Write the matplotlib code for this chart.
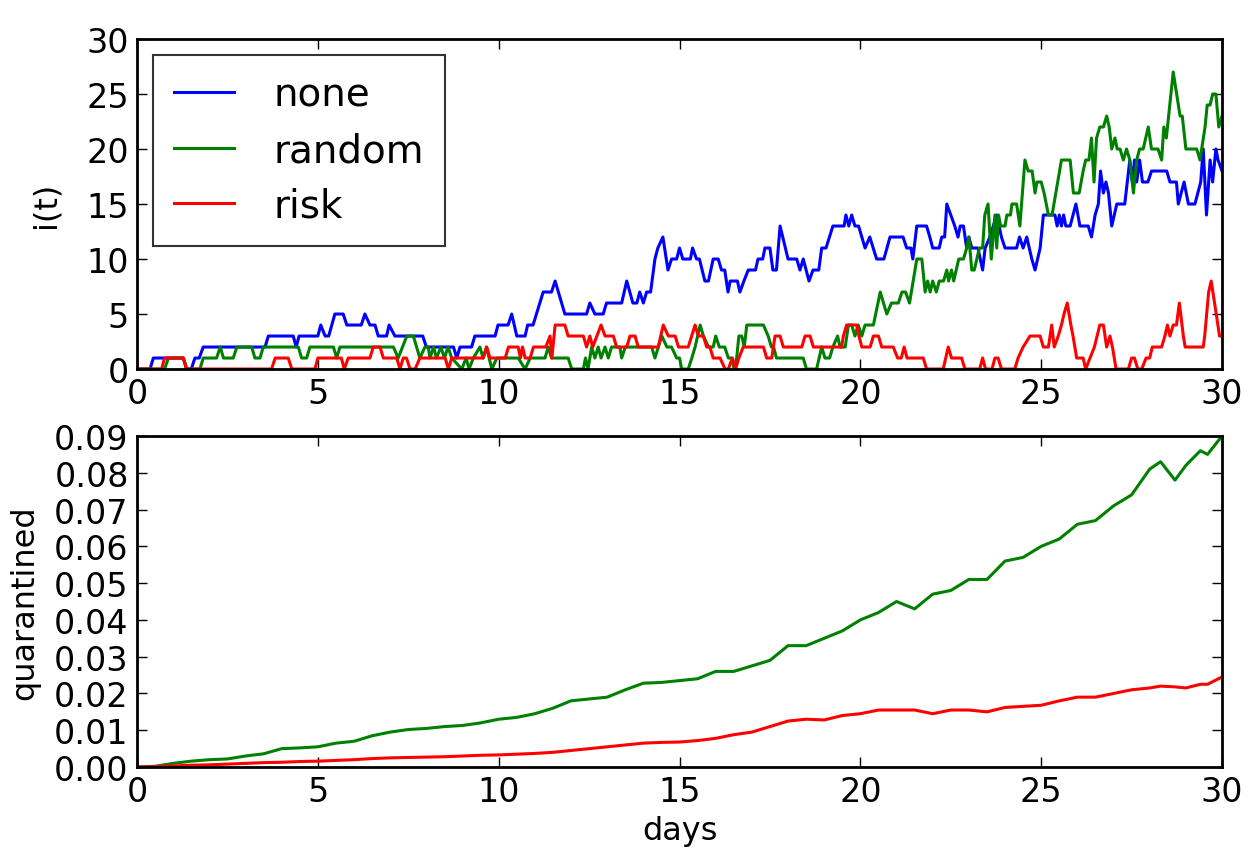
import numpy as np
import matplotlib
matplotlib.use('Agg')
import matplotlib.pyplot as plt

# i(t) series as (day, infected) breakpoints
none_pts = [(0, 0), (0.36, 0), (0.45, 1), (1.28, 1), (1.37, 0), (1.5, 0), (1.6, 1), (1.72, 1), (1.83, 2),
            (3.54, 2), (3.63, 3), (4.32, 3), (4.4, 2), (4.48, 3), (5.0, 3), (5.08, 4), (5.2, 3), (5.3, 3),
            (5.47, 5), (5.7, 5), (5.8, 4), (6.2, 4), (6.3, 5), (6.44, 4), (6.58, 4), (6.67, 3), (6.9, 3),
            (6.97, 4), (7.13, 3), (7.9, 3), (8.0, 2), (8.75, 2), (8.84, 1), (8.93, 2), (9.25, 2), (9.34, 3),
            (9.9, 3), (9.98, 4), (10.26, 4), (10.36, 5), (10.5, 3), (10.73, 3), (10.8, 4), (10.95, 4),
            (11.23, 7), (11.46, 7), (11.56, 8), (11.83, 5), (12.43, 5), (12.52, 6), (12.66, 5), (12.89, 5),
            (12.98, 6), (13.4, 6), (13.54, 8), (13.71, 6), (13.82, 6), (13.9, 7), (14.0, 6), (14.09, 7),
            (14.2, 7), (14.32, 10), (14.4, 11), (14.54, 12), (14.68, 9), (14.78, 10), (14.92, 10), (15.0, 11),
            (15.09, 10), (15.3, 10), (15.36, 11), (15.47, 10), (15.55, 10), (15.7, 8), (15.8, 8), (15.93, 10),
            (16.07, 10), (16.16, 9), (16.25, 9), (16.34, 7), (16.4, 8), (16.6, 8), (16.67, 7), (16.78, 8),
            (16.9, 9), (17.1, 9), (17.17, 10), (17.3, 10), (17.36, 11), (17.5, 11), (17.58, 9), (17.68, 9),
            (17.78, 13), (18.0, 10), (18.24, 10), (18.33, 9), (18.42, 10), (18.58, 8), (18.69, 9), (18.85, 9),
            (18.93, 11), (19.05, 11), (19.24, 13), (19.55, 13), (19.6, 14), (19.68, 13), (19.76, 14),
            (19.85, 13), (19.95, 13), (20.13, 11), (20.26, 12), (20.45, 10), (20.65, 10), (20.82, 12),
            (21.18, 12), (21.28, 11), (21.4, 11), (21.45, 10), (21.56, 13), (21.83, 13), (21.92, 12),
            (22.0, 11), (22.18, 11), (22.25, 12), (22.33, 12), (22.39, 15), (22.61, 13), (22.7, 12),
            (22.76, 13), (22.85, 13), (22.94, 11), (23.0, 12), (23.08, 11), (23.25, 11), (23.38, 9),
            (23.45, 11), (23.58, 12), (23.77, 14), (23.9, 12), (24.0, 11), (24.32, 11), (24.4, 12), (24.5, 11),
            (24.6, 12), (24.74, 10), (24.83, 9), (24.97, 11), (25.06, 14), (25.38, 14), (25.44, 13), (25.5, 14),
            (25.56, 13), (25.62, 14), (25.68, 13), (25.8, 13), (25.96, 15), (26.07, 13), (26.3, 13),
            (26.39, 12), (26.49, 14), (26.58, 15), (26.64, 18), (26.72, 16), (26.79, 17), (26.86, 16),
            (26.95, 13), (27.09, 15), (27.31, 15), (27.45, 19), (27.52, 17), (27.58, 19), (27.64, 17),
            (27.72, 19), (27.8, 17), (27.95, 17), (28.05, 18), (28.47, 18), (28.56, 17), (28.74, 17),
            (28.79, 15), (28.95, 17), (29.07, 15), (29.25, 15), (29.33, 16), (29.41, 17), (29.48, 20),
            (29.57, 14), (29.67, 19), (29.74, 17), (29.83, 20), (29.89, 19), (30.0, 18)]

random_pts = [(0, 0), (0.76, 0), (0.87, 1), (1.28, 1), (1.37, 0), (1.74, 0), (1.83, 1), (2.2, 1), (2.3, 2),
              (2.39, 1), (2.66, 1), (2.76, 2), (3.17, 2), (3.26, 1), (3.4, 1), (3.49, 2), (4.46, 2), (4.55, 1),
              (4.69, 1), (4.78, 2), (5.43, 2), (5.52, 1), (5.61, 2), (7.09, 2), (7.22, 1), (7.46, 3), (7.64, 3),
              (7.82, 1), (7.96, 2), (8.05, 2), (8.1, 1), (8.2, 2), (8.28, 1), (8.4, 2), (8.5, 1), (8.6, 2),
              (8.7, 1), (8.98, 0), (9.1, 1), (9.18, 0), (9.3, 1), (9.48, 2), (9.57, 1), (9.66, 2), (9.81, 0),
              (9.95, 1), (10.54, 1), (10.73, 0), (10.87, 1), (11.28, 1), (11.37, 2), (11.46, 1), (11.92, 1),
              (12.02, 0), (12.34, 0), (12.4, 1), (12.47, 0), (12.57, 2), (12.66, 1), (12.75, 2), (12.83, 1),
              (12.94, 2), (13.03, 1), (13.12, 2), (13.35, 2), (13.4, 1), (13.5, 2), (14.23, 2), (14.32, 1),
              (14.51, 3), (14.65, 2), (14.78, 2), (14.92, 1), (15.0, 1), (15.06, 0), (15.24, 0), (15.34, 1),
              (15.43, 2), (15.57, 4), (15.66, 3), (15.8, 2), (15.93, 2), (16.0, 3), (16.1, 2), (16.25, 2),
              (16.35, 1), (16.44, 1), (16.51, 0), (16.58, 1), (16.64, 3), (16.72, 3), (16.79, 2), (16.86, 4),
              (17.32, 4), (17.45, 3), (17.54, 2), (17.6, 2), (17.68, 1), (18.42, 1), (18.51, 0), (18.79, 0),
              (18.93, 2), (19.02, 1), (19.15, 1), (19.24, 2), (19.37, 3), (19.44, 2), (19.58, 2), (19.67, 4),
              (19.76, 4), (19.85, 3), (19.94, 4), (20.04, 3), (20.13, 4), (20.36, 4), (20.55, 7), (20.73, 5),
              (20.86, 6), (21.05, 6), (21.15, 7), (21.25, 7), (21.36, 6), (21.56, 10), (21.7, 10), (21.79, 7),
              (21.86, 8), (21.93, 7), (22.0, 8), (22.1, 7), (22.18, 8), (22.3, 8), (22.39, 9), (22.44, 8),
              (22.52, 9), (22.58, 8), (22.65, 9), (22.72, 10), (22.85, 10), (22.94, 11), (23.0, 12), (23.08, 9),
              (23.15, 9), (23.22, 10), (23.29, 11), (23.38, 11), (23.44, 14), (23.53, 15), (23.62, 10),
              (23.72, 14), (23.77, 11), (23.82, 14), (23.88, 13), (24.0, 13), (24.05, 14), (24.15, 14),
              (24.19, 15), (24.32, 15), (24.41, 13), (24.55, 19), (24.64, 18), (24.75, 18), (24.83, 16),
              (24.88, 17), (25.0, 17), (25.08, 16), (25.2, 14), (25.3, 14), (25.56, 19), (25.8, 19), (25.89, 16),
              (26.05, 16), (26.16, 18), (26.23, 19), (26.32, 19), (26.39, 21), (26.46, 17), (26.53, 21),
              (26.62, 22), (26.72, 22), (26.81, 23), (26.88, 22), (26.95, 20), (27.04, 21), (27.1, 20),
              (27.18, 20), (27.27, 19), (27.36, 20), (27.45, 19), (27.55, 16), (27.64, 19), (27.72, 20),
              (27.82, 20), (27.96, 22), (28.05, 20), (28.23, 20), (28.33, 19), (28.39, 22), (28.46, 21),
              (28.65, 27), (28.84, 23), (28.9, 23), (29.0, 20), (29.3, 20), (29.39, 19), (29.53, 22),
              (29.59, 24), (29.67, 24), (29.74, 25), (29.83, 25), (29.91, 22), (30.0, 23)]

risk_pts = [(0, 0), (0.68, 0), (0.76, 1), (1.28, 1), (1.37, 0), (3.72, 0), (3.82, 1), (4.18, 1), (4.28, 0),
            (4.92, 0), (5.0, 1), (5.65, 1), (5.73, 0), (5.84, 1), (6.44, 1), (6.53, 2), (6.72, 2), (6.81, 1),
            (7.18, 1), (7.27, 0), (7.36, 1), (7.45, 1), (7.55, 0), (7.69, 0), (7.82, 1), (8.52, 1), (8.61, 0),
            (8.7, 1), (9.57, 1), (9.67, 2), (9.76, 1), (10.18, 1), (10.27, 2), (10.54, 2), (10.6, 1),
            (10.66, 2), (10.73, 1), (10.87, 1), (10.96, 2), (11.3, 2), (11.42, 3), (11.47, 1), (11.56, 4),
            (11.83, 4), (11.92, 3), (12.34, 3), (12.43, 2), (12.52, 3), (12.6, 2), (12.83, 4), (12.94, 3),
            (13.17, 3), (13.26, 2), (13.54, 2), (13.63, 3), (13.77, 3), (13.86, 2), (14.41, 2), (14.55, 4),
            (14.69, 3), (14.88, 3), (14.97, 2), (15.24, 2), (15.43, 4), (15.52, 3), (15.66, 3), (15.75, 2),
            (15.84, 2), (15.93, 1), (16.12, 1), (16.26, 0), (16.35, 0), (16.46, 1), (16.55, 0), (16.64, 1),
            (16.76, 2), (17.32, 2), (17.41, 1), (17.55, 1), (17.64, 3), (17.78, 3), (17.87, 2), (18.38, 2),
            (18.47, 3), (18.61, 3), (18.7, 2), (19.48, 2), (19.53, 3), (19.62, 4), (19.9, 4), (19.96, 3),
            (20.04, 2), (20.27, 2), (20.36, 3), (20.5, 3), (20.59, 2), (20.91, 2), (21.03, 1), (21.13, 1),
            (21.21, 2), (21.29, 1), (21.74, 1), (21.83, 0), (22.29, 0), (22.43, 2), (22.52, 1), (22.8, 1),
            (22.89, 0), (23.3, 0), (23.38, 1), (23.46, 0), (23.64, 0), (23.72, 1), (23.81, 1), (23.9, 0),
            (24.27, 0), (24.36, 1), (24.5, 2), (24.69, 3), (24.97, 3), (25.06, 2), (25.2, 2), (25.29, 4),
            (25.36, 2), (25.47, 3), (25.56, 4), (25.63, 5), (25.72, 6), (25.82, 4), (25.88, 3), (25.98, 1),
            (26.16, 1), (26.23, 0), (26.35, 1), (26.47, 2), (26.62, 4), (26.72, 4), (26.81, 2), (26.9, 3),
            (26.97, 2), (27.07, 0), (27.41, 0), (27.5, 1), (27.58, 1), (27.67, 0), (27.78, 0), (27.9, 1),
            (28.0, 1), (28.07, 2), (28.33, 2), (28.42, 3), (28.49, 4), (28.56, 3), (28.65, 4), (28.74, 4),
            (28.82, 6), (28.93, 3), (28.98, 2), (29.48, 2), (29.52, 3), (29.63, 7), (29.7, 8), (29.84, 5),
            (29.93, 3), (30.0, 3)]

# quarantined fraction (bottom panel)
q_days = [0, 0.5, 1, 1.5, 2, 2.5, 3, 3.5, 4, 4.5, 5, 5.5, 6, 6.5, 7, 7.5, 8, 8.5, 9, 9.5, 10, 10.5, 11, 11.5,
          12, 12.5, 13, 13.5, 14, 14.5, 15, 15.5, 16, 16.5, 17, 17.5, 18, 18.5, 19, 19.5, 20, 20.5, 21, 21.5,
          22, 22.5, 23, 23.5, 24, 24.5, 25, 25.5, 26, 26.5, 27, 27.5, 28, 28.3, 28.7, 29, 29.4, 29.6, 30]
q_random = [0, 0.0002, 0.001, 0.0016, 0.002, 0.0022, 0.003, 0.0036, 0.005, 0.0052, 0.0055, 0.0065, 0.007,
            0.0085, 0.0095, 0.0102, 0.0105, 0.011, 0.0113, 0.012, 0.013, 0.0135, 0.0145, 0.016, 0.018,
            0.0185, 0.019, 0.021, 0.0228, 0.023, 0.0235, 0.024, 0.026, 0.026, 0.0275, 0.029, 0.033, 0.033,
            0.035, 0.037, 0.040, 0.042, 0.045, 0.043, 0.047, 0.048, 0.051, 0.051, 0.056, 0.057, 0.060, 0.062,
            0.066, 0.067, 0.071, 0.074, 0.081, 0.083, 0.078, 0.082, 0.086, 0.085, 0.090]
q_risk = [0, 0.0001, 0.0003, 0.0005, 0.0006, 0.0008, 0.001, 0.0012, 0.0013, 0.0015, 0.0016, 0.0018, 0.002,
          0.0023, 0.0025, 0.0026, 0.0027, 0.0028, 0.003, 0.0032, 0.0033, 0.0035, 0.0037, 0.004, 0.0045,
          0.005, 0.0055, 0.006, 0.0065, 0.0067, 0.0068, 0.0072, 0.0078, 0.0088, 0.0095, 0.011, 0.0125,
          0.013, 0.0128, 0.014, 0.0145, 0.0155, 0.0155, 0.0155, 0.0145, 0.0155, 0.0155, 0.015, 0.0162,
          0.0165, 0.0168, 0.018, 0.019, 0.019, 0.020, 0.021, 0.0215, 0.022, 0.0218, 0.0215, 0.0225, 0.0225,
          0.0245]

day_ticks = [0, 5, 10, 15, 20, 25, 30]
i_ticks = [0, 5, 10, 15, 20, 25, 30]

plt.rcParams['font.size'] = 24

fig = plt.figure(figsize=(12.48, 8.53), dpi=100)
ax1 = fig.add_axes([0.1098, 0.5662, 0.8694, 0.3869])
ax2 = fig.add_axes([0.1098, 0.0996, 0.8694, 0.3881])

for pts, c, lab in [(none_pts, 'blue', 'none'), (random_pts, 'green', 'random'), (risk_pts, 'red', 'risk')]:
    t, v = zip(*pts)
    ax1.plot(t, v, color=c, lw=2.2, label=lab)

ax1.set_xlim(0, 30)
ax1.set_ylim(0, 30)
ax1.set_yticks(i_ticks)
ax1.set_ylabel('i(t)', fontsize=23, labelpad=18)
leg = ax1.legend(loc='upper left', fontsize=28, fancybox=False, handlelength=1.55, handletextpad=1.0,
                 labelspacing=0.45, borderpad=0.55, borderaxespad=0.4)
leg.get_frame().set_edgecolor('black')
leg.get_frame().set_linewidth(1.5)

ax2.plot(q_days, q_random, color='green', lw=2.2)
ax2.plot(q_days, q_risk, color='red', lw=2.2)
ax2.set_xlim(0, 30)
ax2.set_ylim(0, 0.09)
ax2.set_yticks(np.arange(0, 0.0901, 0.01))
ax2.set_yticklabels(['%.2f' % y for y in np.arange(0, 0.0901, 0.01)])
ax2.set_ylabel('quarantined', fontsize=23, labelpad=10)
ax2.set_xlabel('days', fontsize=23, labelpad=5)

for ax in (ax1, ax2):
    ax.set_xticks(day_ticks)
    ax.tick_params(direction='in', top=True, right=True, length=7, width=1, labelsize=24, pad=6)
    for s in ax.spines.values():
        s.set_linewidth(2)

fig.savefig('out.png', dpi=100)
